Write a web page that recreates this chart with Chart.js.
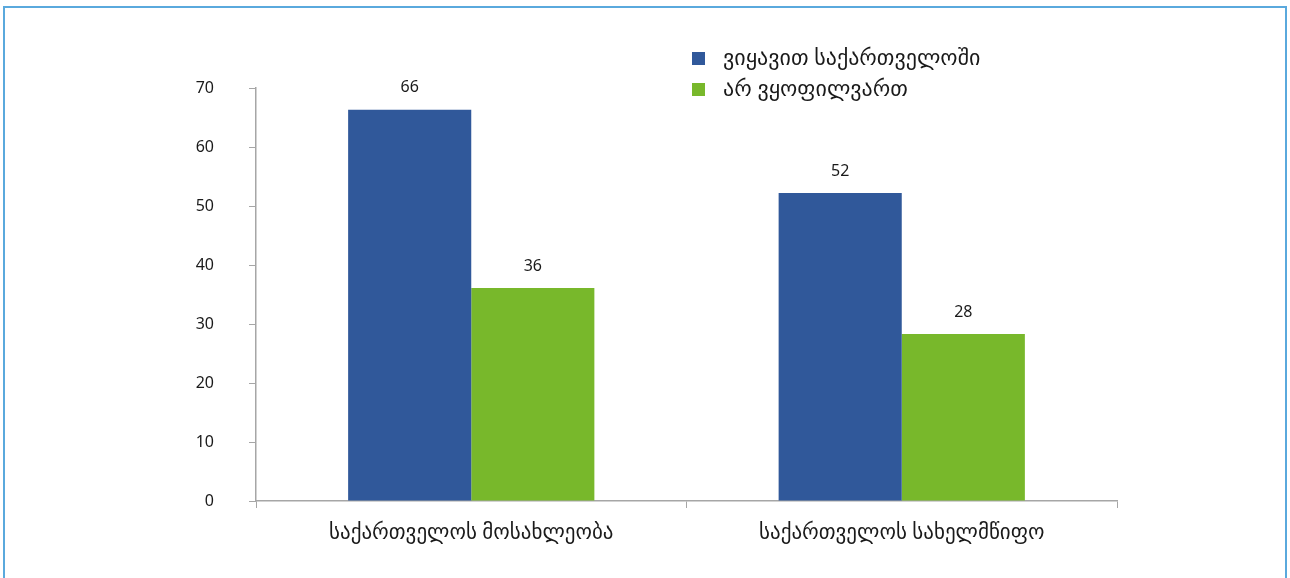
<!DOCTYPE html>
<html>
<head>
<meta charset="utf-8">
<script src="https://cdn.jsdelivr.net/npm/chart.js@4"></script>
<style>
  html, body { margin: 0; padding: 0; background: #fff; }
  body { width: 1290px; height: 578px; overflow: hidden; position: relative; }
  #frame { position: absolute; left: 3px; top: 6px; width: 1284px; height: 600px;
           border: 2px solid #5aa9dd; box-sizing: border-box; }
  #wrap { position: absolute; left: 0; top: 0; width: 1290px; height: 578px; }
</style>
</head>
<body>
<div id="frame"></div>
<div id="wrap"><canvas id="c" width="1290" height="578"></canvas></div>
<script>
const categories = ["საქართველოს მოსახლეობა", "საქართველოს სახელმწიფო"];
const seriesNames = ["ვიყავით საქართველოში", "არ ვყოფილვართ"];
const visitedValues = [66.3, 52.2];
const notVisitedValues = [36.1, 28.3];
const yTicks = [0, 10, 20, 30, 40, 50, 60, 70];

const FONT = "'Noto Sans', 'DejaVu Sans', sans-serif";
const GFONT = "'Noto Sans', 'DejaVu Sans', sans-serif";
const colors = ["#30589a", "#78b82b"];

const valueLabels = {
  id: 'valueLabels',
  afterDatasetsDraw(chart) {
    const ctx = chart.ctx;
    ctx.save();
    ctx.font = "16px " + FONT;
    ctx.fillStyle = "#1a1a1a";
    ctx.textAlign = "center";
    ctx.textBaseline = "middle";
    chart.data.datasets.forEach((ds, i) => {
      chart.getDatasetMeta(i).data.forEach((bar, j) => {
        ctx.fillText(String(Math.round(ds.data[j])), bar.x, bar.y - 22);
      });
    });
    ctx.restore();
  }
};

const sideLegend = {
  id: 'sideLegend',
  afterDraw(chart) {
    const ctx = chart.ctx;
    ctx.save();
    ctx.font = "22px " + GFONT;
    ctx.textBaseline = "middle";
    ctx.textAlign = "left";
    chart.data.datasets.forEach((ds, i) => {
      const cy = 58.5 + i * 31;
      ctx.fillStyle = ds.backgroundColor;
      ctx.fillRect(692, cy - 6.5, 13, 13);
      ctx.fillStyle = "#1a1a1a";
      ctx.fillText(ds.label, 723, cy);
    });
    ctx.restore();
  }
};

new Chart(document.getElementById('c'), {
  type: 'bar',
  data: {
    labels: categories,
    datasets: [
      { label: seriesNames[0], data: visitedValues, backgroundColor: colors[0] },
      { label: seriesNames[1], data: notVisitedValues, backgroundColor: colors[1] }
    ]
  },
  options: {
    responsive: false,
    animation: false,
    devicePixelRatio: 1,
    layout: { padding: { left: 0, top: 88, right: 173, bottom: 0 } },
    datasets: { bar: { categoryPercentage: 0.572, barPercentage: 1.0 } },
    plugins: { legend: { display: false }, tooltip: { enabled: false } },
    scales: {
      x: {
        grid: { display: true, drawOnChartArea: false, drawTicks: true, tickLength: 7, color: '#a6a6a6', offset: true },
        border: { display: true, color: '#a6a6a6', width: 1.5 },
        ticks: { color: '#1a1a1a', font: { size: 21, family: GFONT }, padding: 12, maxRotation: 0 },
        afterFit(s) { s.height = 77; }
      },
      y: {
        min: 0, max: 70,
        afterBuildTicks(s) { s.ticks = yTicks.map(v => ({ value: v })); },
        grid: { display: true, drawOnChartArea: false, drawTicks: true, tickLength: 7, color: '#a6a6a6' },
        border: { display: true, color: '#a6a6a6', width: 1.5 },
        ticks: { color: '#1a1a1a', font: { size: 16, family: FONT }, padding: 35 },
        afterFit(s) { s.width = 256; }
      }
    }
  },
  plugins: [valueLabels, sideLegend]
});
</script>
</body>
</html>
